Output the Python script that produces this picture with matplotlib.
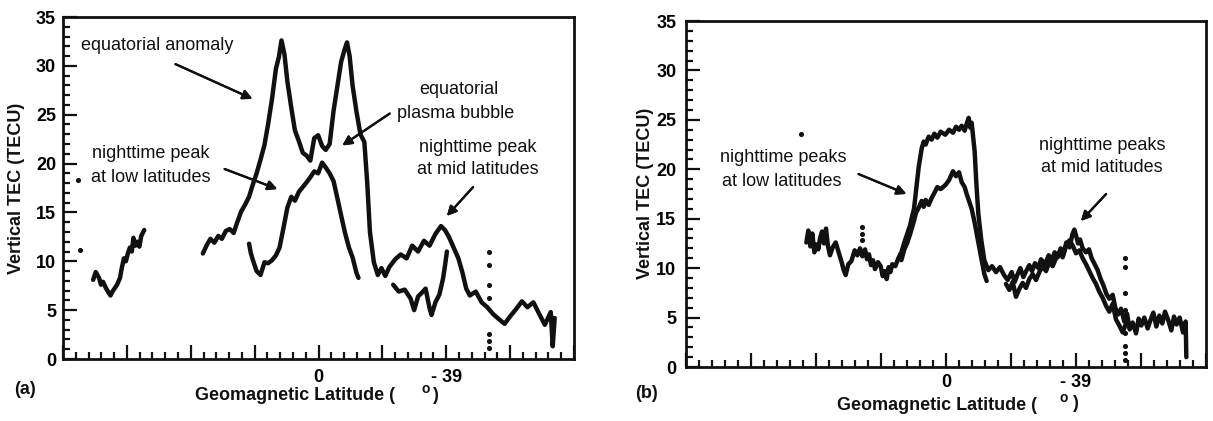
import matplotlib.pyplot as plt
from matplotlib.ticker import FixedLocator, MultipleLocator

plt.rcParams['font.family'] = ['Liberation Sans', 'DejaVu Sans']

# ---------------- panel (a) data ----------------
# short pass at high northern latitudes
a_left_lat = [68.8, 68.0, 67.0, 66.4, 65.8, 64.8, 64.1, 63.5, 62.9, 62.3, 61.5, 60.6,
              60.0, 59.4, 58.8, 58.2, 57.6, 57.0, 56.5, 55.9, 55.3, 54.7, 54.1, 53.2]
a_left_tec = [8.1, 8.9, 8.3, 7.6, 7.9, 7.2, 6.8, 6.5, 6.9, 7.2, 7.6, 8.3,
              9.4, 10.3, 10.0, 10.8, 11.4, 11.0, 12.4, 11.6, 12.0, 11.5, 12.6, 13.2]

# pass with the equatorial anomaly
a_anom_lat = [35.3, 34.2, 33.0, 31.8, 30.6, 29.5, 28.3, 27.1, 25.9, 24.8,
              23.6, 22.4, 21.2, 20.1, 18.9, 17.7, 16.5, 15.4, 14.2, 13.0,
              12.1, 11.3, 10.4, 9.5, 8.3, 7.2, 6.0, 4.8, 3.6, 2.5,
              1.3, 0.1, -1.1, -2.2, -3.4, -4.6, -5.8, -6.9, -7.9, -8.7,
              -9.5, -10.4, -11.6, -12.8, -14.0, -14.9, -15.7, -16.9, -18.1, -19.2,
              -20.4, -21.6, -23.4, -25.1, -26.9, -28.6, -30.4, -32.2, -33.9, -35.7,
              -37.4, -38.6, -39.8, -41.0, -42.7, -43.9, -45.1, -46.2, -48.0, -49.8,
              -51.5, -53.3, -55.0, -56.8, -58.6, -60.3, -62.1, -63.8, -65.6, -67.4,
              -69.1, -70.9, -71.5, -72.1]
a_anom_tec = [10.8, 11.6, 12.3, 11.9, 12.6, 12.3, 13.1, 13.3, 12.9, 14.0,
              15.1, 15.8, 16.6, 17.8, 19.0, 20.4, 21.9, 24.0, 26.6, 29.7,
              30.9, 32.6, 31.2, 28.4, 25.7, 23.4, 22.3, 21.1, 20.8, 20.3,
              22.6, 22.9, 21.8, 21.4, 22.0, 25.4, 28.0, 30.4, 31.6, 32.4,
              31.0, 28.0, 25.3, 23.0, 22.2, 17.9, 13.0, 9.9, 8.6, 9.3,
              8.5, 9.4, 10.2, 10.7, 10.3, 11.6, 11.0, 12.1, 11.6, 12.8,
              13.6, 13.2, 12.5, 11.6, 10.3, 8.9, 7.2, 6.5, 6.9, 5.8,
              5.3, 4.6, 4.1, 3.6, 4.4, 5.1, 5.9, 5.3, 5.8, 4.6,
              3.5, 4.8, 1.3, 4.2]

# nighttime pass
a_night_lat = [21.2, 20.7, 20.1, 19.5, 18.9, 17.7, 16.5, 15.4, 14.2, 13.0, 11.9, 10.7,
               9.5, 8.3, 7.2, 6.0, 4.8, 3.6, 2.5, 1.3, 0.1, -1.1, -2.2, -3.4,
               -4.6, -5.8, -6.9, -8.1, -9.3, -10.4, -11.6, -12.2]
a_night_tec = [11.8, 10.9, 10.2, 9.6, 9.0, 8.6, 9.9, 9.8, 10.1, 10.6, 11.4, 13.4,
               15.5, 16.6, 16.2, 17.1, 17.6, 18.1, 18.6, 19.2, 19.0, 20.1, 19.6, 19.0,
               18.2, 16.4, 14.7, 12.9, 11.4, 10.4, 8.8, 8.3]
a_night2_lat = [-22.8, -24.5, -26.3, -28.1, -29.2, -30.4, -31.6, -32.7, -33.9, -34.5,
                -35.7, -36.9, -38.0, -38.6, -39.2]
a_night2_tec = [7.6, 6.9, 7.1, 6.2, 5.0, 6.4, 6.8, 7.2, 5.2, 4.5,
                5.8, 6.6, 8.2, 9.5, 11.0]

a_dots_lat = [72.9, 73.5] + [-52.1] * 7
a_dots_tec = [11.2, 18.3, 10.9, 9.6, 7.6, 6.2, 2.6, 1.8, 1.1]

# ---------------- panel (b) data ----------------
b_up_lat = [41.9, 41.3, 40.7, 40.1, 39.5, 38.9, 38.3, 37.8, 37.2, 36.6,
            36.0, 35.4, 34.8, 34.0, 33.1, 32.1, 31.3, 30.7, 30.1, 29.3,
            28.4, 27.4, 26.6, 25.8, 25.1, 24.3, 23.7, 23.1, 22.5, 21.9,
            21.3, 20.4, 19.6, 19.0, 18.4, 17.8, 17.2, 16.7, 16.1, 15.2,
            14.3, 13.4, 12.5, 11.7, 10.8, 10.2, 9.6, 9.0, 8.2, 7.3,
            6.7, 6.1, 5.2, 4.3, 3.5, 2.6, 1.6, 0.2, -0.9, -2.1,
            -3.0, -3.9, -4.7, -5.6, -6.2, -6.8, -7.3, -7.7, -8.6, -9.1,
            -9.7, -10.6, -11.5, -12.7, -13.8, -15.0, -16.2, -17.4, -18.5, -19.7,
            -20.6, -21.5, -22.3, -23.2, -24.2, -25.0, -25.8, -26.7, -27.7, -28.5,
            -29.7, -30.8, -31.7, -32.6, -33.5, -34.4, -35.2, -36.1, -37.1, -37.9,
            -38.5, -39.1, -39.6, -40.2, -41.0, -42.0, -42.9, -43.7, -44.6, -45.5,
            -46.4, -47.3, -48.1, -49.0, -50.0, -50.8, -51.6, -52.5, -53.5, -54.3,
            -55.1, -56.0, -57.0, -57.8, -58.6, -59.5, -60.5, -61.3, -62.2, -63.1,
            -64.0, -64.9, -65.7, -66.6, -67.6, -68.4, -69.2, -70.1, -71.1, -71.9,
            -72.1]
b_up_tec = [12.6, 13.8, 12.2, 13.5, 11.6, 12.4, 11.9, 13.0, 13.7, 12.5,
            14.0, 12.2, 11.3, 12.1, 12.6, 11.5, 10.6, 9.8, 9.3, 10.4,
            10.7, 11.8, 11.3, 12.0, 11.2, 11.9, 10.9, 11.4, 10.3, 10.8,
            9.9, 10.6, 10.2, 9.2, 9.7, 8.9, 10.1, 9.6, 10.4, 10.2,
            11.0, 11.6, 12.6, 13.4, 14.3, 15.2, 16.0, 17.8, 20.2, 22.1,
            22.8, 22.5, 23.3, 23.0, 23.6, 23.2, 23.8, 23.5, 24.0, 23.7,
            24.3, 24.0, 24.4, 23.9, 24.6, 25.2, 24.2, 24.7, 21.8, 18.6,
            15.5, 12.8, 10.8, 9.8, 10.2, 9.6, 10.1, 9.3, 8.8, 9.6,
            8.6, 9.4, 10.0, 9.1, 9.8, 10.3, 9.7, 10.5, 10.0, 10.9,
            10.4, 11.3, 10.8, 11.6, 11.1, 12.0, 11.4, 12.6, 12.1, 13.4,
            13.9, 13.2, 12.5, 12.9, 12.0, 11.6, 11.9, 11.0, 10.4, 9.8,
            8.9, 8.2, 7.4, 6.9, 7.3, 6.0, 5.3, 5.9, 4.6, 5.4,
            3.8, 4.5, 3.4, 4.9, 4.2, 5.0, 3.9, 4.7, 5.5, 4.1,
            5.2, 4.4, 5.6, 4.8, 3.7, 5.1, 4.3, 5.0, 3.5, 4.6,
            1.0]

b_low_lat = [13.4, 12.5, 11.7, 10.8, 9.6, 9.0, 8.2, 7.3, 6.7, 6.1,
             5.2, 4.3, 3.5, 2.6, 1.6, 0.2, -0.9, -2.1, -3.0, -3.9,
             -4.7, -5.6, -6.2, -6.8, -7.7, -8.6, -9.7, -10.6, -11.5, -12.2]
b_low_tec = [10.8, 11.9, 12.5, 13.4, 14.8, 15.6, 16.1, 16.8, 16.2, 16.9,
             16.4, 17.1, 17.6, 18.2, 18.0, 18.4, 18.9, 19.8, 19.3, 19.7,
             18.7, 18.2, 17.5, 16.9, 16.0, 14.6, 12.6, 11.0, 9.4, 8.7]
b_low2_lat = [-18.0, -19.0, -20.0, -21.0, -22.0, -23.0, -24.0, -25.0, -26.0, -27.0,
              -28.0, -29.0, -30.0, -31.0, -32.0, -33.0, -34.0, -35.0, -36.0, -37.0,
              -38.0, -39.0, -40.0, -41.0, -42.0, -43.0, -44.0, -45.0, -46.0, -47.0,
              -48.0, -49.0, -50.0, -51.0, -52.0, -53.0, -54.0]
b_low2_tec = [8.4, 7.8, 8.6, 7.1, 7.9, 8.5, 8.0, 8.9, 9.4, 8.8,
              9.6, 10.2, 9.7, 10.6, 10.2, 11.0, 11.6, 11.1, 12.2, 12.8,
              12.3, 11.5, 11.8, 11.0, 10.4, 9.7, 9.0, 8.4, 7.6, 7.0,
              6.2, 5.6, 6.4, 4.8, 4.2, 3.5, 4.4]

b_dots_lat = [43.6, 25.1, 25.1, 25.1] + [-53.7] * 9
b_dots_tec = [23.6, 14.2, 13.5, 12.8, 11.0, 10.1, 7.5, 5.8, 4.8, 3.4, 2.1, 1.4, 0.7]

# ticks
x_major = [78, 58.5, 39, 19.5, 0, -19.5, -39, -58.5, -78]
x_labels = ['', '', '', '', '0', '', '- 39', '', '']

W, H = 1213, 421
ink = '#111111'


def fig_xy(x, y):
    # pixel position -> figure fraction
    return x / W, 1 - y / H


fig = plt.figure(figsize=(W / 100, H / 100), dpi=100)
fig.patch.set_facecolor('white')

axA = fig.add_axes([63 / W, 1 - 359 / H, 511 / W, 342 / H])
axB = fig.add_axes([686 / W, 1 - 367 / H, 520 / W, 346 / H])

for ax, xpad, ypad in [(axA, 7, 5), (axB, 5, 7)]:
    ax.set_xlim(78, -78)
    ax.set_ylim(0, 35)
    ax.xaxis.set_major_locator(FixedLocator(x_major))
    ax.xaxis.set_minor_locator(MultipleLocator(3.9))
    ax.set_xticklabels(x_labels)
    ax.yaxis.set_major_locator(MultipleLocator(5))
    ax.yaxis.set_minor_locator(MultipleLocator(1))
    ax.tick_params(which='both', direction='in', width=1.6, color=ink)
    ax.tick_params(which='major', length=10)
    ax.tick_params(which='minor', length=5)
    ax.tick_params(axis='x', pad=xpad, labelsize=13)
    ax.tick_params(axis='y', pad=ypad, labelsize=13)
    for lab in ax.get_xticklabels() + ax.get_yticklabels():
        lab.set_fontweight('bold')
    for sp in ax.spines.values():
        sp.set_linewidth(2.0)
        sp.set_color(ink)

line_kw = dict(color=ink, lw=3.2, solid_joinstyle='round', solid_capstyle='round')

axA.plot(a_left_lat, a_left_tec, **line_kw)
axA.plot(a_anom_lat, a_anom_tec, **line_kw)
axA.plot(a_night_lat, a_night_tec, **line_kw)
axA.plot(a_night2_lat, a_night2_tec, **line_kw)
axA.scatter(a_dots_lat, a_dots_tec, s=7, color=ink, zorder=3)

axB.plot(b_up_lat, b_up_tec, **line_kw)
axB.plot(b_low_lat, b_low_tec, **line_kw)
axB.plot(b_low2_lat, b_low2_tec, **line_kw)
axB.scatter(b_dots_lat, b_dots_tec, s=7, color=ink, zorder=3)

# axis labels, placed by pixel position
bold = dict(fontsize=13, fontweight='bold', color=ink, ha='center', va='center')
fig.text(*fig_xy(17, 188), 'Vertical TEC (TECU)', rotation=90, **bold)
fig.text(*fig_xy(645, 193), 'Vertical TEC (TECU)', rotation=90, **bold)

fig.text(*fig_xy(195, 396), 'Geomagnetic Latitude (', fontsize=13, fontweight='bold',
         color=ink, ha='left', va='center')
fig.text(*fig_xy(426, 389), 'o', fontsize=10, fontweight='bold', color=ink, ha='center', va='center')
fig.text(*fig_xy(435, 396), ')', **bold)

fig.text(*fig_xy(837, 405), 'Geomagnetic Latitude (', fontsize=13, fontweight='bold',
         color=ink, ha='left', va='center')
fig.text(*fig_xy(1064, 398), 'o', fontsize=10, fontweight='bold', color=ink, ha='center', va='center')
fig.text(*fig_xy(1075, 404), ')', **bold)

fig.text(*fig_xy(25, 389), '(a)', **bold)
fig.text(*fig_xy(646, 394), '(b)', **bold)

# annotations
note = dict(fontsize=13, color=ink, ha='center', va='center')
notes = [
    (157, 45, 'equatorial anomaly'),
    (459, 89, 'equatorial'),
    (456, 113, 'plasma bubble'),
    (151, 153, 'nighttime peak'),
    (151, 177, 'at low latitudes'),
    (478, 147, 'nighttime peak'),
    (478, 170, 'at mid latitudes'),
    (783, 158, 'nighttime peaks'),
    (782, 182, 'at low latitudes'),
    (1102, 146, 'nighttime peaks'),
    (1102, 168, 'at mid latitudes'),
]
for x, y, s in notes:
    fig.text(*fig_xy(x, y), s, **note)

arrows = [
    ((173, 63), (255, 100)),
    ((392, 112), (340, 147)),
    ((222, 168), (280, 190)),
    ((475, 185), (445, 218)),
    ((856, 173), (909, 195)),
    ((1108, 192), (1079, 223)),
]
for start, end in arrows:
    fig.add_artist(plt.annotate('', xy=fig_xy(*end), xytext=fig_xy(*start),
                                xycoords='figure fraction', textcoords='figure fraction',
                                arrowprops=dict(arrowstyle='-|>', color=ink, lw=1.6,
                                                mutation_scale=14)))

fig.savefig('out.png', dpi=100, facecolor='white')
